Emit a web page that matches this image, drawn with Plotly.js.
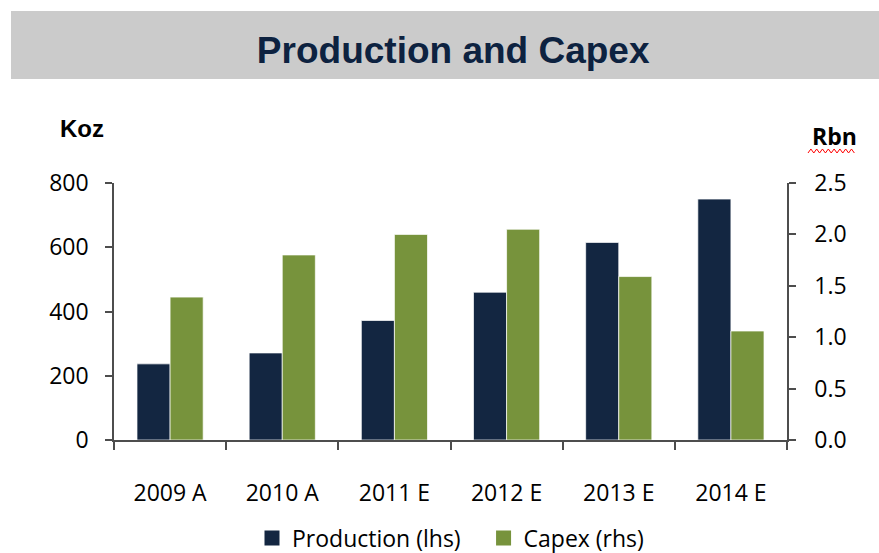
<!DOCTYPE html>
<html>
<head>
<meta charset="utf-8">
<script src="https://cdn.plot.ly/plotly-3.0.1.min.js"></script>
<style>
  html, body { margin: 0; padding: 0; background: #fff; }
  #chart { width: 879px; height: 553px; }
</style>
</head>
<body>
<div id="chart"></div>
<script>
const years      = ["2009 A", "2010 A", "2011 E", "2012 E", "2013 E", "2014 E"];
const production = [237, 271, 372, 460, 615, 750];   // Koz, left axis
const capex      = [1.39, 1.80, 2.00, 2.05, 1.59, 1.06]; // Rbn, right axis
const seriesNames = ["Production (lhs)", "Capex (rhs)"];

const NAVY  = "#132641";
const GREEN = "#77933c";
const AXIS  = "#4d4d4d";
const TICK_FONT = { family: "Open Sans, sans-serif", size: 23, color: "#000" };

// plot area in page pixels, used to place the banner and unit labels
const W = 879, H = 553;
const M = { l: 114, r: 92, t: 183, b: 113 };
const px = (x) => (x - M.l) / (W - M.l - M.r);
const py = (y) => (H - M.b - y) / (H - M.t - M.b);

// red spell-check squiggle under "Rbn"
let squiggle = "";
for (let i = 0; i <= 16; i++) {
    const x = 808 + i * 2.9;
    const y = i % 2 ? 149 : 153;
    squiggle += (i ? " L" : "M") + px(x).toFixed(4) + "," + py(y).toFixed(4);
}

const barLine = { color: "rgba(255,255,255,0.7)", width: 1 };

const traces = [
    {
        x: years, y: production, type: "bar", name: seriesNames[0],
        yaxis: "y", width: 0.295, offset: -0.295, showlegend: false,
        marker: { color: NAVY, line: barLine },
    },
    {
        x: years, y: capex, type: "bar", name: seriesNames[1],
        yaxis: "y2", width: 0.295, offset: 0, showlegend: false,
        marker: { color: GREEN, line: barLine },
    },
    // legend-only entries so the key squares can be as big as in the original
    {
        x: [null], y: [null], type: "scatter", mode: "markers",
        name: seriesNames[0] + "&nbsp;&nbsp;&nbsp;",
        marker: { symbol: "square", size: 15, color: NAVY },
        hoverinfo: "skip",
    },
    {
        x: [null], y: [null], type: "scatter", mode: "markers",
        name: seriesNames[1],
        marker: { symbol: "square", size: 15, color: GREEN },
        hoverinfo: "skip",
    },
];

const layout = {
    width: W, height: H,
    margin: M,
    paper_bgcolor: "#fff",
    plot_bgcolor: "#fff",
    showlegend: true,
    title: {
        text: "<b>Production and Capex</b>",
        font: { family: "Liberation Sans, Arial, sans-serif", size: 37, color: "#0d2240" },
        x: 0.504, xref: "paper", xanchor: "center",
        y: 1 - 50 / H, yref: "container", yanchor: "middle",
    },
    xaxis: {
        type: "category",
        showline: true, linecolor: AXIS, linewidth: 1.5,
        ticks: "outside", tickson: "boundaries", ticklen: 8, tickwidth: 1.5, tickcolor: AXIS,
        tickfont: TICK_FONT, ticklabelstandoff: 32,
        showgrid: false, zeroline: false, fixedrange: true, automargin: false,
    },
    yaxis: {
        range: [0, 800], dtick: 200,
        showline: true, linecolor: AXIS, linewidth: 1.5,
        ticks: "outside", ticklen: 7, tickwidth: 1.5, tickcolor: AXIS,
        tickfont: TICK_FONT, ticklabelstandoff: 12,
        showgrid: false, zeroline: false, fixedrange: true, automargin: false,
    },
    yaxis2: {
        range: [0, 2.5], dtick: 0.5, tickformat: ".1f",
        overlaying: "y", side: "right",
        showline: true, linecolor: AXIS, linewidth: 1.5,
        ticks: "outside", ticklen: 7, tickwidth: 1.5, tickcolor: AXIS,
        tickfont: TICK_FONT, ticklabelstandoff: 14,
        showgrid: false, zeroline: false, fixedrange: true, automargin: false,
    },
    legend: {
        orientation: "h",
        x: 0.5, xanchor: "center",
        yref: "container", y: 1 - 538 / H, yanchor: "middle",
        font: TICK_FONT,
        itemwidth: 30,
        traceorder: "normal",
    },
    shapes: [
        {
            type: "rect", xref: "paper", yref: "paper", layer: "below",
            x0: px(11), x1: px(879), y0: py(11), y1: py(79),
            fillcolor: "#cbcbcb", line: { width: 0 },
        },
        {
            type: "path", xref: "paper", yref: "paper",
            path: squiggle, line: { color: "#ff0000", width: 1 },
        },
    ],
    annotations: [
        {
            text: "<b>Koz</b>", xref: "paper", yref: "paper", showarrow: false,
            x: px(82), y: py(128), xanchor: "center", yanchor: "middle",
            font: { family: "Liberation Sans, Arial, sans-serif", size: 24, color: "#000" },
        },
        {
            text: "<b>Rbn</b>", xref: "paper", yref: "paper", showarrow: false,
            x: px(834), y: py(136), xanchor: "center", yanchor: "middle",
            font: { family: "Open Sans, sans-serif", size: 23, color: "#000" },
        },
    ],
    font: { family: "Open Sans, sans-serif" },
};

Plotly.newPlot("chart", traces, layout, { displayModeBar: false, responsive: false });
</script>
</body>
</html>
